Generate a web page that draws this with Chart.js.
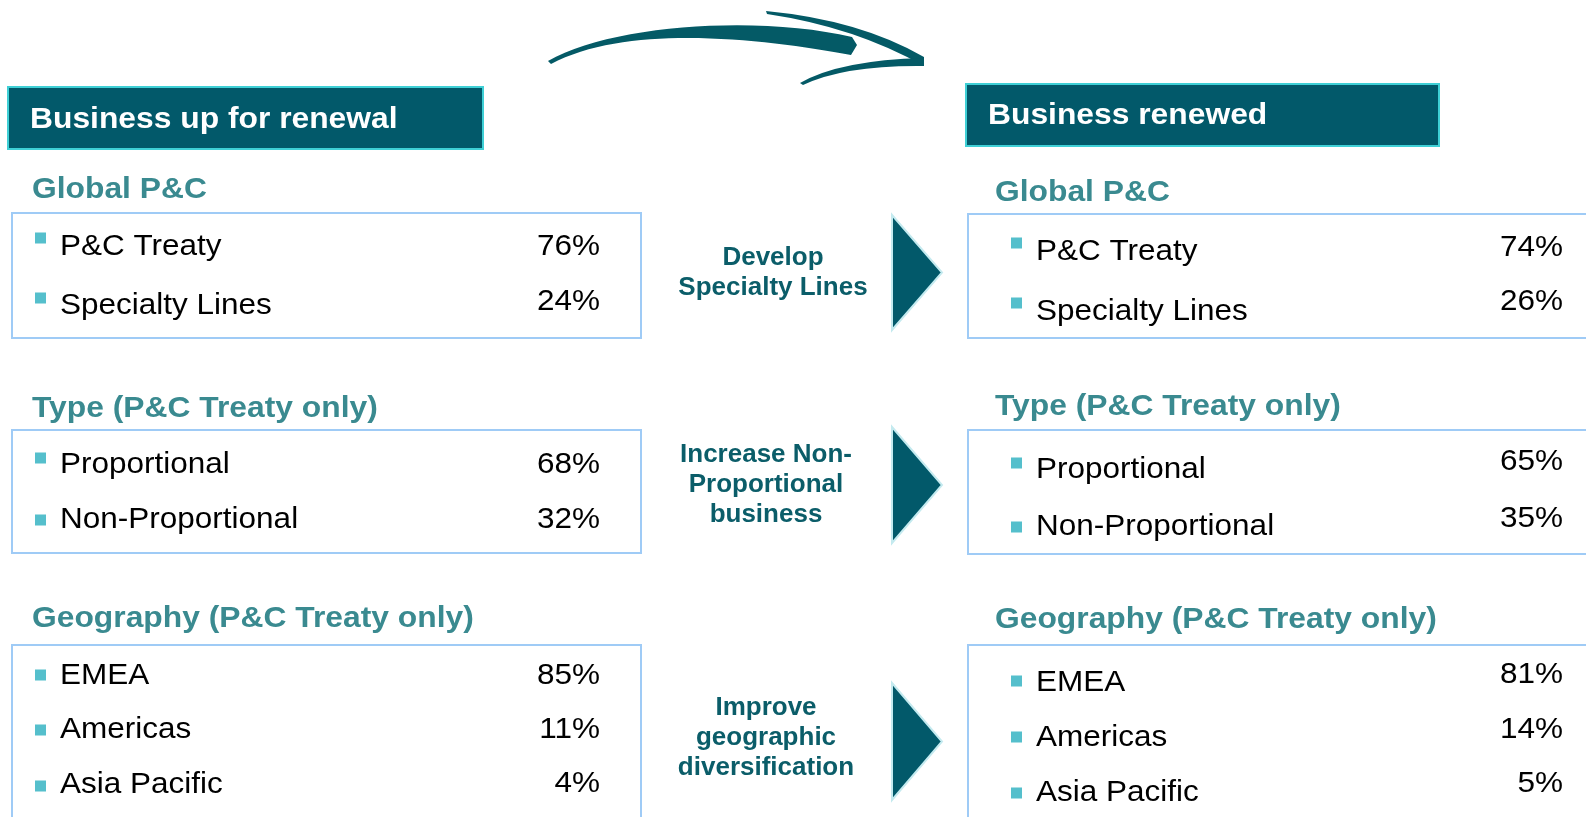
<!DOCTYPE html>
<html>
<head>
<meta charset="utf-8">
<script src="https://cdn.jsdelivr.net/npm/chart.js@4.4.1/dist/chart.umd.min.js"></script>
<style>
  html, body { margin: 0; padding: 0; background: #fff; }
  #wrap { width: 1586px; height: 817px; position: relative; }
</style>
</head>
<body>
<div id="wrap"><canvas id="renewal"></canvas></div>
<script>
const headers = ['Business up for renewal', 'Business renewed'];
const sectionTitles = ['Global P&C', 'Type (P&C Treaty only)', 'Geography (P&C Treaty only)'];
const globalLabels = ['P&C Treaty', 'Specialty Lines'];
const typeLabels = ['Proportional', 'Non-Proportional'];
const geoLabels = ['EMEA', 'Americas', 'Asia Pacific'];
const globalBefore = [76, 24];
const globalAfter = [74, 26];
const typeBefore = [68, 32];
const typeAfter = [65, 35];
const geoBefore = [85, 11, 4];
const geoAfter = [81, 14, 5];
const actions = [
    ['Develop', 'Specialty Lines'],
    ['Increase Non-', 'Proportional', 'business'],
    ['Improve', 'geographic', 'diversification']
];

const labelSets = [globalLabels, typeLabels, geoLabels];
const valueSets = [[globalBefore, typeBefore, geoBefore], [globalAfter, typeAfter, geoAfter]];

const dark = '#02596a';
const titleTeal = '#3a8a90';
const bulletBlue = '#55bfcc';
const boxBlue = '#9fcbf6';
const FONT = '"Liberation Sans", Arial, sans-serif';

// page layout (pixel units on the hidden x / y scales)
const columns = [
    {
        header: [8, 87, 483, 149], headerText: [30, 128],
        titleX: 32, titleY: [198, 417, 627],
        boxes: [[12, 213, 641, 338], [12, 430, 641, 553], [12, 645, 641, 822]],
        bulletX: 35, labelX: 60, valueX: 600,
        labelY: [[255, 314], [473, 528], [684, 738, 793]],
        valueY: [[255, 310], [473, 528], [684, 738, 792]],
        bulletY: [[238, 298], [458, 520], [675, 730, 786]]
    },
    {
        header: [966, 84, 1439, 146], headerText: [988, 124],
        titleX: 995, titleY: [201, 415, 628],
        boxes: [[968, 214, 1592, 338], [968, 430, 1592, 554], [968, 645, 1592, 822]],
        bulletX: 1011, labelX: 1036, valueX: 1563,
        labelY: [[260, 320], [478, 535], [691, 746, 801]],
        valueY: [[256, 310], [470, 527], [683, 738, 792]],
        bulletY: [[243, 303], [463, 527], [681, 737, 793]]
    }
];
const actionX = [773, 766, 766];
const actionY = [[265, 295], [462, 492, 522], [715, 745, 775]];
const triangles = [[215, 330], [427, 543], [683, 800]];

function drawText(ctx, str, x, y, font, color, align, stretch) {
    ctx.save();
    ctx.translate(x, y);
    ctx.scale(stretch, 1);
    ctx.font = font;
    ctx.fillStyle = color;
    ctx.textAlign = align;
    ctx.textBaseline = 'alphabetic';
    ctx.fillText(str, 0, 0);
    ctx.restore();
}

const infographic = {
    id: 'infographic',
    afterDraw(chart) {
        const ctx = chart.ctx;
        const X = v => chart.scales.x.getPixelForValue(v);
        const Y = v => chart.scales.y.getPixelForValue(v);

        columns.forEach((col, c) => {
            const h = col.header;
            ctx.fillStyle = dark;
            ctx.fillRect(X(h[0]), Y(h[1]), X(h[2]) - X(h[0]), Y(h[3]) - Y(h[1]));
            ctx.strokeStyle = '#3fd0d6';
            ctx.lineWidth = 2;
            ctx.strokeRect(X(h[0]), Y(h[1]), X(h[2]) - X(h[0]), Y(h[3]) - Y(h[1]));
            drawText(ctx, headers[c], X(col.headerText[0]), Y(col.headerText[1]), 'bold 30px ' + FONT, '#ffffff', 'left', 1.06);

            sectionTitles.forEach((title, s) => {
                drawText(ctx, title, X(col.titleX), Y(col.titleY[s]), 'bold 30px ' + FONT, titleTeal, 'left', 1.06);
                const b = col.boxes[s];
                ctx.strokeStyle = boxBlue;
                ctx.lineWidth = 2;
                ctx.strokeRect(X(b[0]), Y(b[1]), X(b[2]) - X(b[0]), Y(b[3]) - Y(b[1]));

                labelSets[s].forEach((label, i) => {
                    ctx.fillStyle = bulletBlue;
                    ctx.fillRect(X(col.bulletX), Y(col.bulletY[s][i]) - 5.5, 11, 11);
                    drawText(ctx, label, X(col.labelX), Y(col.labelY[s][i]), '30px ' + FONT, '#000000', 'left', 1.05);
                    drawText(ctx, valueSets[c][s][i] + '%', X(col.valueX), Y(col.valueY[s][i]), '30px ' + FONT, '#000000', 'right', 1.05);
                });
            });
        });

        actions.forEach((lines, a) => {
            lines.forEach((line, j) => {
                drawText(ctx, line, X(actionX[a]), Y(actionY[a][j]), 'bold 26px ' + FONT, '#0b5d69', 'center', 1);
            });
            const t = triangles[a];
            ctx.beginPath();
            ctx.moveTo(X(892), Y(t[0]));
            ctx.lineTo(X(942), Y((t[0] + t[1]) / 2));
            ctx.lineTo(X(892), Y(t[1]));
            ctx.closePath();
            ctx.fillStyle = dark;
            ctx.fill();
            ctx.strokeStyle = '#c4eaef';
            ctx.lineWidth = 2;
            ctx.stroke();
        });

        // hand drawn arrow at the top
        ctx.fillStyle = '#045a66';
        ctx.beginPath();
        ctx.moveTo(X(548), Y(61));
        ctx.bezierCurveTo(X(612), Y(24), X(760), Y(15), X(852), Y(37));
        ctx.lineTo(X(857), Y(45));
        ctx.lineTo(X(851), Y(55));
        ctx.bezierCurveTo(X(770), Y(40), X(630), Y(22), X(551), Y(64));
        ctx.closePath();
        ctx.fill();

        ctx.beginPath();
        ctx.moveTo(X(766), Y(11));
        ctx.quadraticCurveTo(X(860), Y(20), X(924), Y(57));
        ctx.lineTo(X(924), Y(66));
        ctx.quadraticCurveTo(X(855), Y(27), X(767), Y(14));
        ctx.closePath();
        ctx.fill();

        ctx.beginPath();
        ctx.moveTo(X(800), Y(83));
        ctx.quadraticCurveTo(X(840), Y(60), X(924), Y(58));
        ctx.lineTo(X(924), Y(66));
        ctx.quadraticCurveTo(X(845), Y(65), X(803), Y(85));
        ctx.closePath();
        ctx.fill();
    }
};

new Chart(document.getElementById('renewal'), {
    type: 'scatter',
    data: { datasets: [] },
    options: {
        responsive: true,
        maintainAspectRatio: false,
        animation: false,
        layout: { padding: 0 },
        plugins: { legend: { display: false }, tooltip: { enabled: false } },
        scales: {
            x: { type: 'linear', min: 0, max: 1586, display: false },
            y: { type: 'linear', min: 0, max: 817, reverse: true, display: false }
        }
    },
    plugins: [infographic]
});
</script>
</body>
</html>
